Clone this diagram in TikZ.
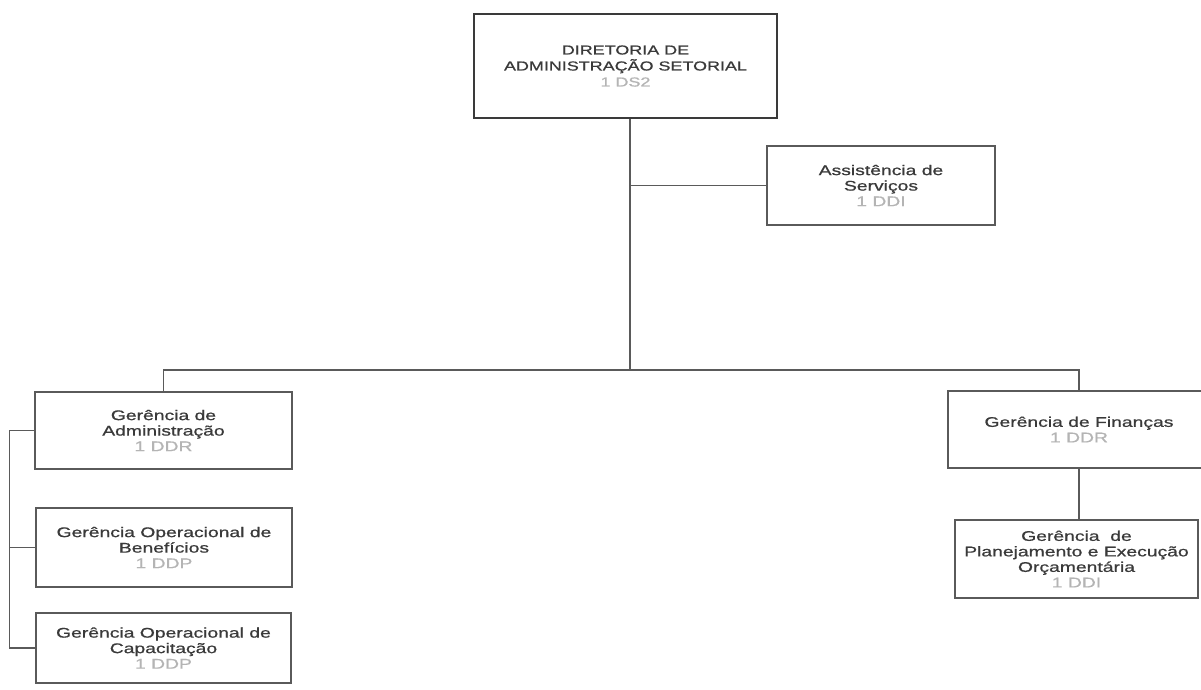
\documentclass[tikz,border=0pt]{standalone}
\usepackage{fontspec}
\setmainfont{Liberation Sans}[FakeStretch=1.38, FakeBold=0.8]
\usepackage{xcolor}
\usetikzlibrary{positioning,calc}
\definecolor{ink}{HTML}{3A3A3A}
\definecolor{frame}{HTML}{5A5A5A}
\definecolor{faint}{HTML}{B4B4B4}
\tikzset{
  orgbox/.style={
    rectangle, draw=frame, line width=1.1pt, fill=white,
    text=ink, align=center, inner sep=2pt,
    font=\fontsize{14}{15.5}\selectfont
  },
  topbox/.style={
    orgbox, draw=ink, line width=2.6pt,
    font=\fontsize{13}{16}\selectfont
  },
  orgline/.style={draw=frame, line width=1.1pt},
}
\newcommand{\cargo}[1]{\textcolor{faint}{#1}}

\begin{document}
\begin{tikzpicture}[x=1pt, y=-1pt]
  \useasboundingbox[fill=white] (0,0) rectangle (1201,689);
  % diretoria e assistencia
  \node[topbox, minimum width=303pt, minimum height=104pt] at (625.5,66) (dir)
    {DIRETORIA DE\\ADMINISTRAÇÃO SETORIAL\\\cargo{1 DS2}};
  \node[orgbox, minimum width=228pt, minimum height=79pt] at (881,185.5) (ass)
    {Assistência de\\Serviços\\\cargo{1 DDI}};
  \coordinate (hub) at (630,370);
  % gerencias
  \node[orgbox, minimum width=257pt, minimum height=77pt] at (163.5,430.5) (adm)
    {Gerência de\\Administração\\\cargo{1 DDR}};
  \node[orgbox, minimum width=256pt, minimum height=79pt] at (164,547.5) (ben)
    {Gerência Operacional de\\Benefícios\\\cargo{1 DDP}};
  \node[orgbox, minimum width=255pt, minimum height=70pt] at (163.5,648) (cap)
    {Gerência Operacional de\\Capacitação\\\cargo{1 DDP}};
  \node[orgbox, minimum width=262pt, minimum height=77pt] at (1079,429.5) (fin)
    {Gerência de Finanças\\\cargo{1 DDR}};
  \node[orgbox, minimum width=243pt, minimum height=78pt] at (1076.5,559) (pla)
    {Gerência\ \ de\\Planejamento e Execução\\Orçamentária\\\cargo{1 DDI}};
  % ligacoes
  \draw[orgline] ([xshift=4.5pt]dir.south) -- (hub);
  \draw[orgline] ([xshift=4.5pt]dir.south |- ass.west) -- (ass.west);
  \draw[orgline] (adm.north) |- (hub) -| (fin.north);
  \draw[orgline] (fin.south) -- (fin.south |- pla.north);
  \draw[orgline] (adm.west) -- ++(-25,0) coordinate (bus) |- (cap.west);
  \draw[orgline] (ben.west) -- (ben.west -| bus);
\end{tikzpicture}
\end{document}
